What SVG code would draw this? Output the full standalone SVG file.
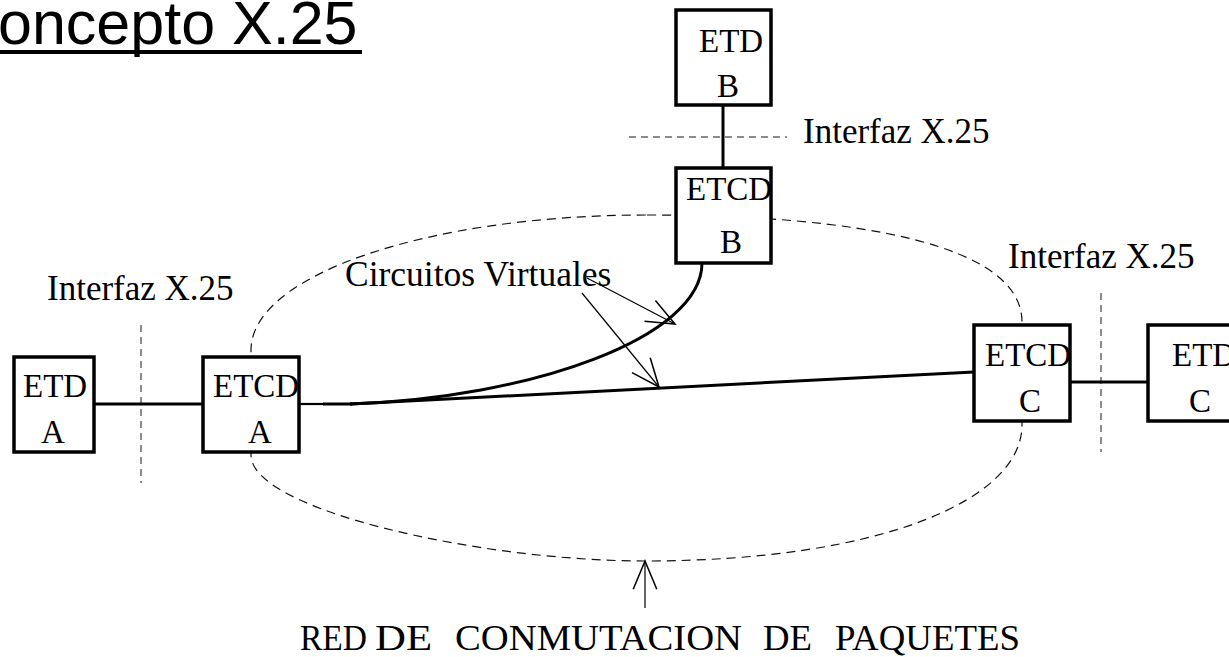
<svg xmlns="http://www.w3.org/2000/svg" width="1229" height="657" viewBox="0 0 1229 657">
  <style>
    .box { fill: #fff; stroke: #000; stroke-width: 3.5; }
    .lbl { font-family: "Liberation Serif", "Times New Roman", serif; font-size: 33px; fill: #000; }
    .txt { font-family: "Liberation Serif", "Times New Roman", serif; font-size: 35px; fill: #000; }
    .link { fill: none; stroke: #000; stroke-width: 3; }
    .iface { fill: none; stroke: #666; stroke-width: 1.5; stroke-dasharray: 7 5; }
    .net { fill: none; stroke: #111; stroke-width: 1.2; stroke-dasharray: 9 6; }
    .ptr { fill: none; stroke: #000; stroke-width: 1.2; marker-end: url(#open); }
  </style>
  <defs>
    <marker id="open" markerUnits="userSpaceOnUse" markerWidth="40" markerHeight="40" viewBox="-30 -15 34 30" refX="0" refY="0" orient="auto">
      <path d="M-24,-10 L0,0 L-24,10" fill="none" stroke="#000" stroke-width="1.3"/>
    </marker>
  </defs>

  <!-- title -->
  <g id="title">
    <text x="-2" y="44" style="font-family: 'Liberation Sans', Arial, sans-serif; font-size: 61px; fill: #000;">oncepto X.25</text>
    <line x1="0" y1="52" x2="362" y2="52" stroke="#000" stroke-width="4"/>
  </g>

  <!-- packet switching network boundary -->
  <g id="network">
    <path class="net" d="M647,215 C860,215 1022,245 1022,322 L1022,425 C1022,500 880,561 645,561 C480,561 251,510 251,455 L251,350 C251,275 428,215 647,215 Z"/>
  </g>

  <!-- interface boundaries -->
  <g id="interfaces">
    <line class="iface" x1="141" y1="325" x2="141" y2="483"/>
    <line class="iface" x1="629" y1="137" x2="787" y2="137"/>
    <line class="iface" x1="1101" y1="293" x2="1101" y2="452"/>
    <text class="txt" x="47" y="300">Interfaz X.25</text>
    <text class="txt" x="803" y="143">Interfaz X.25</text>
    <text class="txt" x="1008" y="268">Interfaz X.25</text>
  </g>

  <!-- links and virtual circuits -->
  <g id="connectors">
    <line class="link" x1="94" y1="404" x2="203" y2="404"/>
    <line class="link" x1="723" y1="105" x2="723" y2="168"/>
    <line class="link" x1="1070" y1="382" x2="1148" y2="382"/>
    <line x1="299" y1="404" x2="325" y2="404" stroke="#000" stroke-width="2.2"/>
    <line class="link" x1="323" y1="404" x2="352" y2="404"/>
    <line class="link" x1="350" y1="404" x2="974" y2="372"/>
    <path class="link" stroke-width="3.6" d="M350,404 C530,398 702,338 702,263"/>
    <line class="ptr" x1="587" y1="278" x2="675" y2="324"/>
    <line class="ptr" x1="582" y1="293" x2="659" y2="387"/>
    <line class="ptr" x1="645" y1="608" x2="645" y2="561"/>
  </g>

  <!-- nodes -->
  <g id="etd-a">
    <rect class="box" x="14" y="357" width="80" height="95"/>
    <text class="lbl" x="23" y="397">ETD</text>
    <text class="lbl" x="53" y="443" text-anchor="middle">A</text>
  </g>
  <g id="etcd-a">
    <rect class="box" x="203" y="357" width="96" height="95"/>
    <text class="lbl" x="213" y="397">ETCD</text>
    <text class="lbl" x="260" y="443" text-anchor="middle">A</text>
  </g>
  <g id="etd-b">
    <rect class="box" x="676" y="10" width="95" height="95"/>
    <text class="lbl" x="699" y="52">ETD</text>
    <text class="lbl" x="728" y="97" text-anchor="middle">B</text>
  </g>
  <g id="etcd-b">
    <rect class="box" x="676" y="168" width="95" height="95"/>
    <text class="lbl" x="686" y="200">ETCD</text>
    <text class="lbl" x="731" y="253" text-anchor="middle">B</text>
  </g>
  <g id="etcd-c">
    <rect class="box" x="974" y="325" width="96" height="96"/>
    <text class="lbl" x="985" y="366">ETCD</text>
    <text class="lbl" x="1030" y="412" text-anchor="middle">C</text>
  </g>
  <g id="etd-c">
    <rect class="box" x="1148" y="325" width="96" height="96"/>
    <text class="lbl" x="1172" y="366">ETD</text>
    <text class="lbl" x="1200" y="412" text-anchor="middle">C</text>
  </g>

  <!-- labels -->
  <g id="labels">
    <text class="txt" x="345" y="286" style="font-size: 35.5px;">Circuitos Virtuales</text>
    <text class="txt" y="650">
      <tspan x="300" textLength="67" lengthAdjust="spacingAndGlyphs">RED</tspan>
      <tspan x="375" textLength="57" lengthAdjust="spacingAndGlyphs">DE</tspan>
      <tspan x="455" textLength="287" lengthAdjust="spacingAndGlyphs">CONMUTACION</tspan>
      <tspan x="763" textLength="49" lengthAdjust="spacingAndGlyphs">DE</tspan>
      <tspan x="835" textLength="185" lengthAdjust="spacingAndGlyphs">PAQUETES</tspan>
    </text>
  </g>
</svg>
